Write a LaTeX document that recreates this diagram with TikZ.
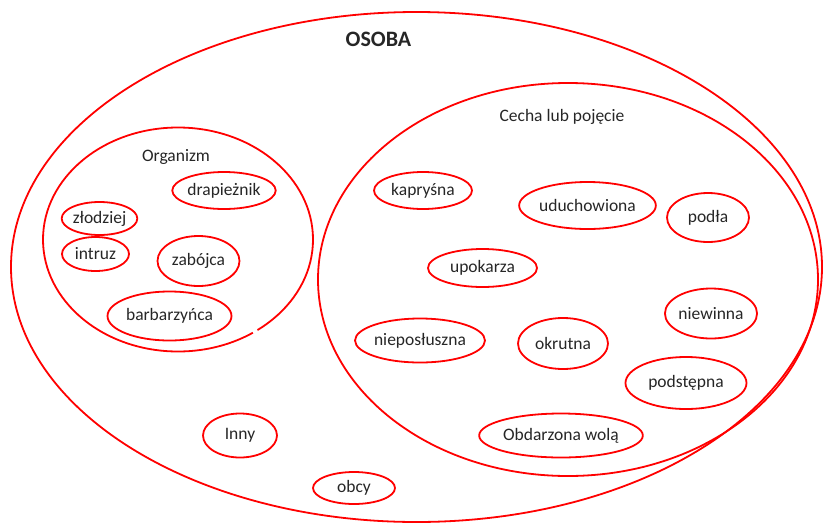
\documentclass[tikz,border=0pt]{standalone}
\usepackage{fontspec}
\setmainfont{Carlito}
\usetikzlibrary{shapes.geometric}
\definecolor{txt}{HTML}{262626}
\definecolor{ered}{HTML}{FF0000}
\tikzset{
  bub/.style={ellipse, draw=ered, line width=1.8pt, inner sep=0pt, text=txt,
    font=\fontsize{17.5}{20}\selectfont},
  big/.style={ellipse, draw=ered, line width=1.8pt, inner sep=0pt},
  lbl/.style={text=txt, font=\fontsize{17.5}{20}\selectfont, inner sep=0pt},
}
\begin{document}
\begin{tikzpicture}[x=1pt,y=-1pt]
\useasboundingbox (0,0) rectangle (823,523);
% containers
\node[big, minimum width=811pt, minimum height=510pt] (osoba) at (416.5,267) {};
\node[big, minimum width=500pt, minimum height=393pt] (cecha) at (568,279.5) {};
\node[big, minimum width=270pt, minimum height=224pt] (org) at (178,239.5) {};
\draw[white, line width=4pt] (257.2,329.8) -- (252.8,332.3);
% labels
\node[text=txt, font=\fontsize{22}{26}\selectfont\bfseries, inner sep=0pt] (tosoba) at (378.5,39) {OSOBA};
\node[lbl] (tcecha) at (562,117) {Cecha lub pojęcie};
\node[lbl] (torg) at (176,157) {Organizm};
% Organizm members
\node[bub, minimum width=102pt, minimum height=37pt] (drap) at (224,190.5) {drapieżnik};
\node[bub, minimum width=75pt, minimum height=33pt] (zlo) at (99.5,218.5) {złodziej};
\node[bub, minimum width=67pt, minimum height=34pt] (intr) at (95.5,254) {intruz};
\node[bub, minimum width=82pt, minimum height=50pt] (zab) at (198.5,261) {zabójca};
\node[bub, minimum width=124pt, minimum height=49pt] (barb) at (169.5,316) {barbarzyńca};
% Cecha members
\node[bub, minimum width=98pt, minimum height=37pt] (kap) at (423,190.5) {kapryśna};
\node[bub, minimum width=129pt, minimum height=47pt] (udu) at (587.5,205.5) {uduchowiona};
\node[bub, minimum width=82pt, minimum height=49pt] (pod) at (708,217.5) {podła};
\node[bub, minimum width=109pt, minimum height=38pt] (upo) at (482.5,268) {upokarza};
\node[bub, minimum width=92pt, minimum height=50pt] (niew) at (711,313.5) {niewinna};
\node[bub, minimum width=124pt, minimum height=44pt] (niep) at (420,340.5) {nieposłuszna};
\node[bub, minimum width=90pt, minimum height=51pt] (okr) at (563,343.5) {okrutna};
\node[bub, minimum width=121pt, minimum height=52pt] (podst) at (686,383) {podstępna};
\node[bub, minimum width=154pt, minimum height=44pt] (obd) at (561,435.5) {Obdarzona wolą};
% others
\node[bub, minimum width=74pt, minimum height=44pt] (inny) at (240,435.5) {Inny};
\node[bub, minimum width=82pt, minimum height=32pt] (obcy) at (354,488) {obcy};
\end{tikzpicture}
\end{document}
